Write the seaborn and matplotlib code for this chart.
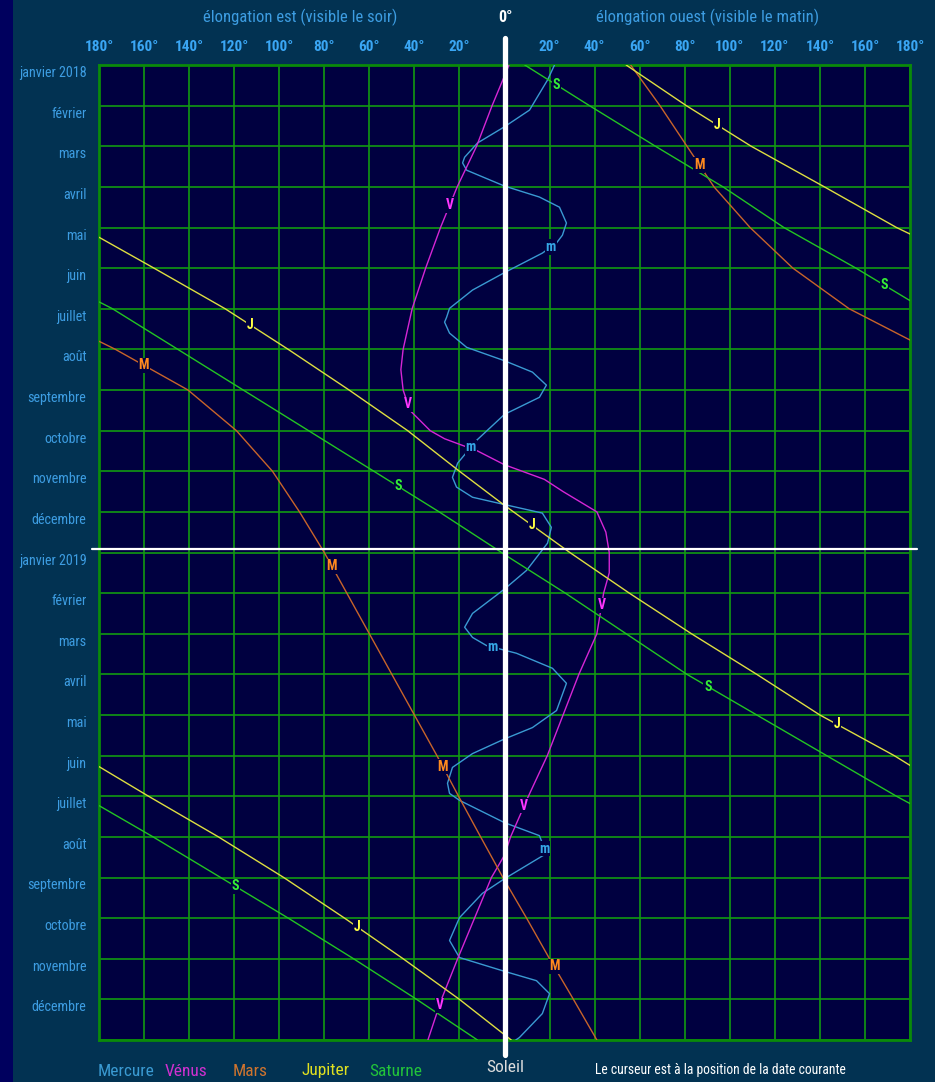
import numpy as np
import pandas as pd
import matplotlib
matplotlib.use("Agg")
import matplotlib.pyplot as plt
import seaborn as sns
from matplotlib.patches import Rectangle
from matplotlib import font_manager

# ---------------- data ----------------
month_labels = ["janvier 2018", "février", "mars", "avril", "mai", "juin", "juillet",
                "août", "septembre", "octobre", "novembre", "décembre",
                "janvier 2019", "février", "mars", "avril", "mai", "juin", "juillet",
                "août", "septembre", "octobre", "novembre", "décembre"]
deg_ticks = list(range(-180, 181, 20))   # negative = east (evening), positive = west (morning)

# months since 1 Jan 2018, elongation in degrees
mercure_m = [0, 0.37, 1.11, 1.52, 1.92, 2.27, 2.41, 2.59, 2.98, 3.25, 3.50, 3.89, 4.19, 4.38, 4.63,
             5.11, 5.54, 5.99, 6.21, 6.33, 6.60, 6.95, 7.28, 7.56, 7.88, 8.18, 8.60, 9.24, 9.80,
             10.15, 10.39, 10.64, 10.82, 11.03, 11.38, 11.77, 12.44, 12.90, 13.50, 13.84, 14.09,
             14.29, 14.48, 14.85, 15.22, 15.89, 16.31, 16.59, 16.95, 17.29, 17.68, 17.93, 18.10,
             18.65, 18.97, 19.41, 19.66, 20.03, 20.39, 20.99, 21.55, 21.97, 22.31, 22.54, 22.86,
             23.35, 23.94, 24.0]
mercure_d = [22.2, 19.1, 11.1, 0, -12.0, -17.7, -18.6, -16.8, 0, 15.5, 24.4, 27.5, 25.7, 23.1, 16.8,
             0, -14.2, -24.4, -25.7, -26.6, -24.4, -16.8, 0, 12.4, 18.6, 15.5, 0, -12.4, -20.8,
             -23.1, -21.3, -14.2, 0, 16.8, 20.8, 19.1, 9.8, 0, -14.2, -17.7, -14.2,
             -8.0, 5.3, 21.3, 27.5, 23.1, 12.4, 0, -14.2, -23.1, -25.3, -24.4, -20.0,
             0, 15.5, 18.6, 11.1, 0, -9.8, -20.0, -24.4, -20.0, 0, 14.2, 20.0,
             16.8, 6.6, 5.0]

venus_m = [0, 1, 2, 3, 4, 5, 6, 7, 7.5, 8, 8.5, 9, 9.2, 9.5, 9.84, 10.2, 10.5, 11, 11.5, 12,
           12.5, 13, 14, 15, 16, 17, 18, 19, 19.45, 20, 21, 22, 23, 24]
venus_d = [2, -5.5, -12.4, -21, -28.4, -35, -41, -45, -46, -45, -42, -33, -26.6, -12, 0, 17.7,
           26, 41, 45, 46.5, 46.5, 44, 41, 33, 26, 19, 10.6, 2.7, 0, -5.8, -13.3, -20.8, -28, -34]

mars_m = [0, 1, 2, 3, 4, 5, 6, 6.77, 6.8, 7, 8, 9, 10, 11, 12, 13, 14, 15, 16, 17, 18, 19, 20,
          21, 22, 23, 24]
mars_d = [56, 69, 81, 93, 109, 128, 153, 180, -180, -172.7, -140.5, -119, -103, -91, -80, -70,
          -60, -50, -40, -30, -20.4, -10.6, -0.7, 9.8, 20, 30.6, 41]

jupiter_m = [0, 1, 2, 3, 4, 4.16, 4.24, 5, 6, 7, 8, 9, 10, 10.84, 11, 12, 13, 14, 15, 16, 17,
             17.24, 17.27, 18, 19, 20, 21, 22, 23, 23.87, 24]
jupiter_d = [54, 80.7, 109.5, 142, 174, 180, -180, -155.6, -124, -96, -69, -43, -20, 0, 4, 29,
             55.4, 83, 112, 140, 173, 180, -180, -158, -127, -98, -71, -45, -20, 0, 3]

saturne_m = [0, 1, 2, 3, 4, 5, 5.8, 5.83, 6, 7, 8, 9, 10, 11, 12, 12.05, 13, 14, 15, 16, 17, 18,
             18.18, 18.23, 19, 20, 21, 22, 23, 24]
saturne_d = [9, 37.7, 67, 97, 124, 156, 180, -180, -174, -145, -116, -87, -58, -29, -1.3, 0, 27,
             54, 81, 112, 143, 174, 180, -180, -156, -126, -96, -67, -39, -12]

# months where the planet letter is written on its curve
label_months = {
    "Mercure": [4.48, 9.41, 14.33, 19.29],
    "Vénus": [3.45, 8.35, 13.30, 18.23, 23.15],
    "Mars": [2.46, 7.39, 12.34, 17.27, 22.19],
    "Jupiter": [1.48, 6.40, 11.33, 16.23, 21.21],
    "Saturne": [0.49, 5.42, 10.37, 15.30, 20.22],
}
letters = {"Mercure": "m", "Vénus": "V", "Mars": "M", "Jupiter": "J", "Saturne": "S"}
cursor_month = 11.92

# ---------------- style ----------------
FIG_BG = "#023252"
STRIP = "#00005e"
PLOT_BG = "#000040"
GRID = "#129a12"
BORDER = "#0a8a0a"
line_colors = {"Mercure": "#3a9ad2", "Vénus": "#d526d5", "Mars": "#c8642a",
               "Jupiter": "#dede40", "Saturne": "#22c422"}
label_colors = {"Mercure": "#35a6e6", "Vénus": "#ff36ff", "Mars": "#ff8a1e",
                "Jupiter": "#ffff44", "Saturne": "#35ee35"}
legend_colors = {"Mercure": "#3a9ad2", "Vénus": "#d030d0", "Mars": "#d0742e",
                 "Jupiter": "#e0e020", "Saturne": "#22c43a"}
TXT_BLUE = "#3d9de2"
TICK_BLUE = "#3aa6f4"

sns.set_theme(style="dark")
available = {f.name for f in font_manager.fontManager.ttflist}
narrow = [f for f in ["Liberation Sans Narrow", "DejaVu Sans Condensed", "Roboto Condensed",
                      "Open Sans Condensed", "Liberation Sans"] if f in available]
plt.rcParams['font.family'] = narrow + ['DejaVu Sans']
IS_NARROW = bool(narrow) and narrow[0] != "Liberation Sans"
scale = 1.0 if IS_NARROW else 0.88

planets = [("Mercure", mercure_m, mercure_d), ("Vénus", venus_m, venus_d),
           ("Mars", mars_m, mars_d), ("Jupiter", jupiter_m, jupiter_d),
           ("Saturne", saturne_m, saturne_d)]

rows = []
for name, m, d in planets:
    seg = 0
    for i in range(len(m)):
        if i > 0 and abs(d[i] - d[i - 1]) > 180:
            seg += 1
        rows.append(dict(planet=name, month=m[i], elong=d[i], seg=f"{name}{seg}"))
df = pd.DataFrame(rows)

W, H = 935, 1082
fig = plt.figure(figsize=(W / 100, H / 100), dpi=100, facecolor=FIG_BG)
fig.patches.append(Rectangle((0, 0), 13 / W, 1, transform=fig.transFigure,
                             facecolor=STRIP, edgecolor="none", zorder=0))
ax = fig.add_axes([99 / W, 1 - 1040 / H, 811 / W, 975 / H])
ax.set_facecolor(PLOT_BG)

sns.lineplot(data=df, x="elong", y="month", hue="planet", units="seg", estimator=None,
             sort=False, palette=line_colors, legend=False, lw=1.0, ax=ax, zorder=3)

ax.set_xlim(-180, 180)
ax.set_ylim(24, 0)
ax.set_xlabel("")
ax.set_ylabel("")

# grid
ax.set_xticks(deg_ticks)
ax.set_yticks(range(25))
ax.grid(True, which="major", color=GRID, lw=1.2)
ax.set_axisbelow(True)
ax.xaxis.tick_top()
ax.set_xticklabels(["" if v == 0 else f"{abs(v)}°" for v in deg_ticks],
                   color=TICK_BLUE, fontweight="bold", fontsize=11 * scale)
ax.set_yticklabels([])
ax.set_yticks(np.arange(24) + 0.16, minor=True)
ax.set_yticklabels(month_labels, minor=True, color=TXT_BLUE, fontsize=10.2 * scale)
ax.tick_params(axis="x", which="both", length=0, pad=8)
ax.tick_params(axis="y", which="both", length=0, pad=9)
for sp in ax.spines.values():
    sp.set_visible(True)
    sp.set_color(BORDER)
    sp.set_linewidth(2)

# planet letters on curves
for name, m, d in planets:
    for lm in label_months[name]:
        x = float(np.interp(lm, m, d))
        ax.text(x, lm, letters[name], ha="center", va="center", color=label_colors[name],
                fontsize=10, fontweight="bold", zorder=6,
                bbox=dict(boxstyle="square,pad=0.05", fc=PLOT_BG, ec="none"))

# Sun line and date cursor
ax.axvline(0, ymin=-0.0154, ymax=1.0277, color="white", lw=3.8, clip_on=False, zorder=10)
ax.axhline(cursor_month, xmin=-0.0086, xmax=1.0086, color="white", lw=1.6,
           clip_on=False, zorder=9)

# header texts
ty = 1 - 17 / H
fig.text(300 / W, ty, "élongation est (visible le soir)", ha="center", va="center",
         color=TXT_BLUE, fontsize=12 * scale)
fig.text(505 / W, ty, "0°", ha="center", va="center", color="white", fontsize=11.5 * scale,
         fontweight="bold")
fig.text(708 / W, ty, "élongation ouest (visible le matin)", ha="center", va="center",
         color=TXT_BLUE, fontsize=12 * scale)

# footer legend
ly = 1 - 1071 / H
for name, x0 in [("Mercure", 98), ("Vénus", 165), ("Mars", 233), ("Jupiter", 302),
                 ("Saturne", 369)]:
    fig.text(x0 / W, ly, name, ha="left", va="center", color=legend_colors[name],
             fontsize=12.5 * scale)
fig.text(505 / W, 1 - 1067 / H, "Soleil", ha="center", va="center", color="#dddddd",
         fontsize=12.5 * scale)
fig.text(595 / W, 1 - 1070 / H, "Le curseur est à la position de la date courante",
         ha="left", va="center", color="white", fontsize=9.8 * scale)

fig.savefig("out.png", dpi=100, facecolor=FIG_BG)
